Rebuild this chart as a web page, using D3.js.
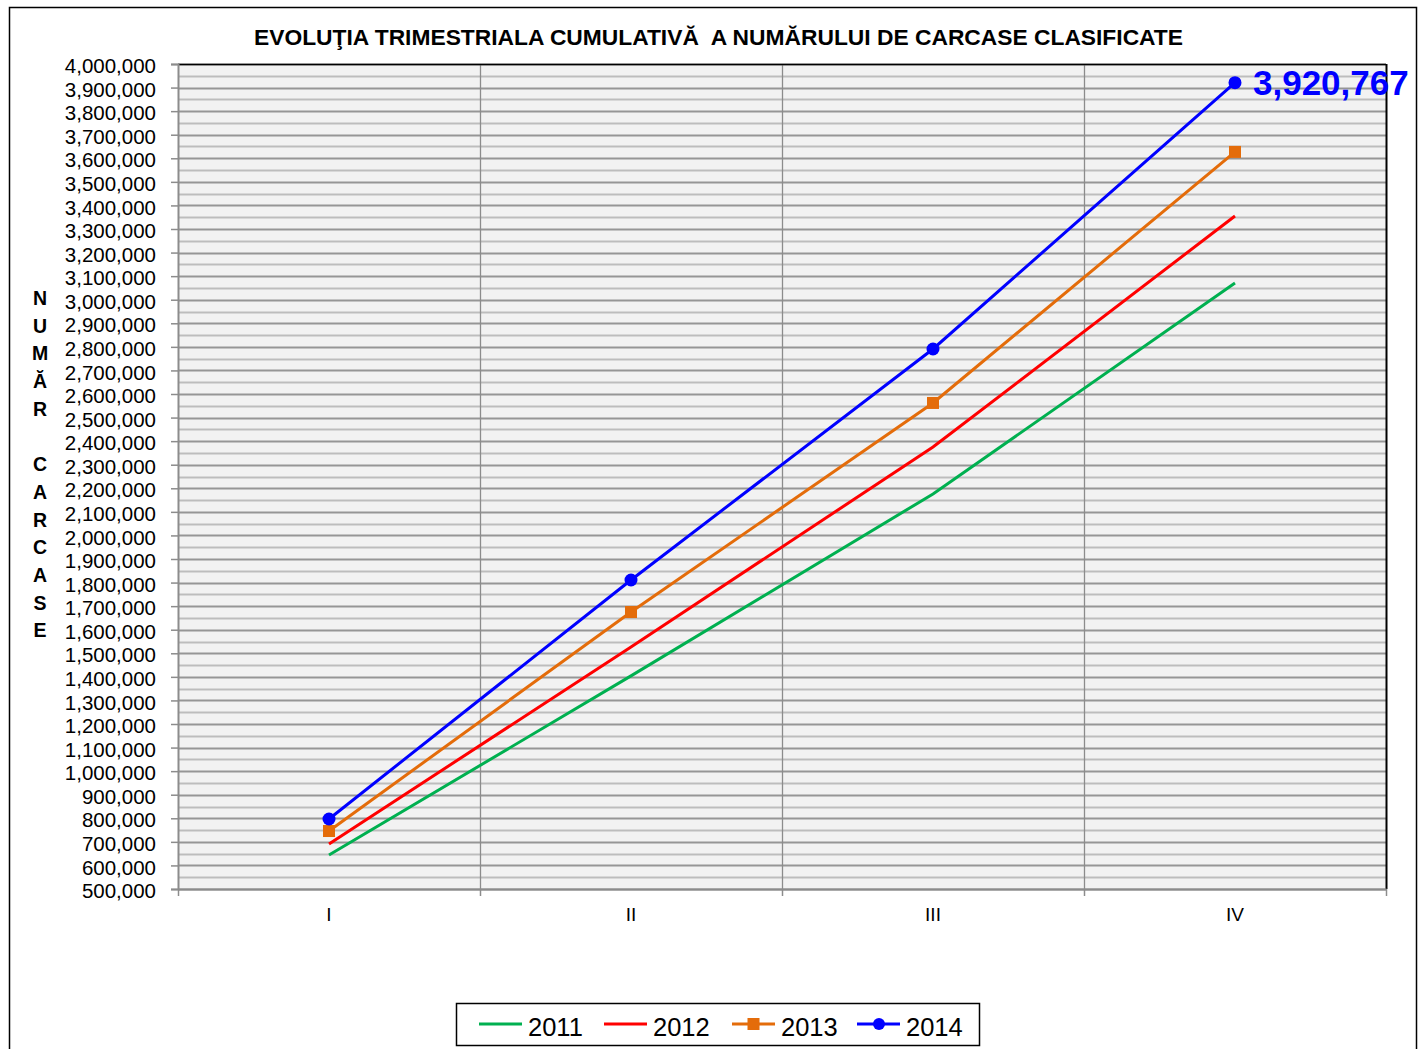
<!DOCTYPE html>
<html><head><meta charset="utf-8">
<script src="https://cdn.jsdelivr.net/npm/d3@7"></script>
<style>body{margin:0;background:#fff;} svg{display:block;font-family:Arial,"Liberation Sans",sans-serif;}</style>
</head><body>
<svg id="chart" width="1419" height="1049"></svg>
<script>
const title = "EVOLUŢIA TRIMESTRIALA CUMULATIVĂ  A NUMĂRULUI DE CARCASE CLASIFICATE";
const yAxisTitle = ["N","U","M","Ă","R","","C","A","R","C","A","S","E"];
const categories = ["I","II","III","IV"];
const seriesNames = ["2011","2012","2013","2014"];
const values2011 = [644000, 1404000, 2176000, 3071000];
const values2012 = [691000, 1527000, 2375000, 3355000];
const values2013 = [746000, 1675000, 2562000, 3627000];
const values2014 = [797000, 1811000, 2791000, 3920767];
const yTicks = d3.range(500000, 4000001, 100000);
const minorTicks = d3.range(550000, 4000000, 100000);
const lastLabel = "3,920,767";

const colors = {"2011":"#00b050","2012":"#ff0000","2013":"#e46c0a","2014":"#0000ff"};
const markers = {"2011":null,"2012":null,"2013":"square","2014":"circle"};
const seriesData = {"2011":values2011,"2012":values2012,"2013":values2013,"2014":values2014};

const svg = d3.select("#chart");
const L = 178, T = 64, R = 1386, B = 889;

// outer frame
svg.append("rect").attr("x",9.5).attr("y",7.5).attr("width",1407).attr("height",1060)
  .attr("fill","none").attr("stroke","#000").attr("stroke-width",1.5);

const x = d3.scaleBand().domain(categories).range([L,R]);
const y = d3.scaleLinear().domain([500000,4000000]).range([B,T]);

svg.append("rect").attr("x",L).attr("y",T).attr("width",R-L).attr("height",B-T).attr("fill","#f2f2f2");

// minor grid
svg.append("g").selectAll("line").data(minorTicks).join("line")
  .attr("x1",L).attr("x2",R).attr("y1",d=>Math.round(y(d))+0.5).attr("y2",d=>Math.round(y(d))+0.5)
  .attr("stroke","#bdbdbd").attr("stroke-width",2);
// major grid
svg.append("g").selectAll("line").data(yTicks).join("line")
  .attr("x1",L).attr("x2",R).attr("y1",d=>Math.round(y(d))+0.5).attr("y2",d=>Math.round(y(d))+0.5)
  .attr("stroke","#969696").attr("stroke-width",2);
// vertical grid
svg.append("g").selectAll("line").data(categories.slice(1)).join("line")
  .attr("x1",d=>Math.round(x(d))+0.5).attr("x2",d=>Math.round(x(d))+0.5).attr("y1",T).attr("y2",B)
  .attr("stroke","#8c8c8c").attr("stroke-width",1.3);

// plot frame top/right
svg.append("line").attr("x1",L).attr("x2",R).attr("y1",T+0.5).attr("y2",T+0.5).attr("stroke","#000").attr("stroke-width",1.5);
svg.append("line").attr("x1",R+0.5).attr("x2",R+0.5).attr("y1",T).attr("y2",B).attr("stroke","#000").attr("stroke-width",2);

// y axis
const yAxis = d3.axisLeft(y).tickValues(yTicks).tickSize(7).tickPadding(14)
  .tickFormat(d3.format(","));
const gy = svg.append("g").attr("transform",`translate(${L},0)`).call(yAxis);
gy.select(".domain").attr("stroke","#8c8c8c").attr("stroke-width",2);
gy.selectAll(".tick line").attr("stroke","#8c8c8c").attr("stroke-width",1.5);
gy.selectAll(".tick text").attr("font-size",20.5).attr("fill","#000").attr("dx",-1).attr("dy","0.42em");

// x axis
const xAxis = d3.axisBottom(x).tickSize(0).tickPadding(19);
const gx = svg.append("g").attr("transform",`translate(0,${B})`).call(xAxis);
gx.select(".domain").attr("stroke","#8c8c8c").attr("stroke-width",2);
gx.selectAll(".tick text").attr("font-size",19).attr("fill","#000");
// x boundary ticks
const bounds = categories.map(c=>x(c)).concat([R]);
svg.append("g").selectAll("line").data(bounds).join("line")
  .attr("x1",d=>Math.round(d)+0.5).attr("x2",d=>Math.round(d)+0.5).attr("y1",B).attr("y2",B+7)
  .attr("stroke","#8c8c8c").attr("stroke-width",1.5);

// series
const line = d3.line().x((d,i)=>x(categories[i])+x.bandwidth()/2).y(d=>y(d));
seriesNames.forEach(s=>{
  const vals = seriesData[s];
  svg.append("path").datum(vals).attr("d",line).attr("fill","none")
    .attr("stroke",colors[s]).attr("stroke-width",3);
  const g = svg.append("g");
  if(markers[s]==="square"){
    g.selectAll("rect").data(vals).join("rect")
      .attr("x",(d,i)=>x(categories[i])+x.bandwidth()/2-6).attr("y",d=>y(d)-6)
      .attr("width",12).attr("height",12).attr("fill",colors[s]);
  } else if(markers[s]==="circle"){
    g.selectAll("circle").data(vals).join("circle")
      .attr("cx",(d,i)=>x(categories[i])+x.bandwidth()/2).attr("cy",d=>y(d))
      .attr("r",6.5).attr("fill",colors[s]);
  }
});

// last value label
svg.append("text").attr("x",x("IV")+x.bandwidth()/2+18).attr("y",y(values2014[3])+12)
  .attr("font-size",35).attr("font-weight","bold").attr("fill","#0000ff").text(lastLabel);

// title
svg.append("text").attr("x",254).attr("y",45)
  .attr("font-size",21.5).attr("font-weight","bold").attr("fill","#000")
  .attr("textLength",929).attr("lengthAdjust","spacingAndGlyphs")
  .attr("xml:space","preserve").text(title);

// y axis title (vertical stacked letters)
svg.append("g").selectAll("text").data(yAxisTitle).join("text")
  .attr("x",40).attr("y",(d,i)=>305+i*27.7).attr("text-anchor","middle")
  .attr("font-size",19.5).attr("font-weight","bold").attr("fill","#000").text(d=>d);

// legend
svg.append("rect").attr("x",456.5).attr("y",1003.5).attr("width",523).attr("height",42)
  .attr("fill","#fff").attr("stroke","#000").attr("stroke-width",1.5);
const legX = [479, 604, 732, 857];
seriesNames.forEach((s,i)=>{
  const g = svg.append("g").attr("transform",`translate(${legX[i]},1024)`);
  g.append("line").attr("x1",0).attr("x2",43).attr("y1",0).attr("y2",0).attr("stroke",colors[s]).attr("stroke-width",3);
  if(markers[s]==="square") g.append("rect").attr("x",15.5).attr("y",-6).attr("width",12).attr("height",12).attr("fill",colors[s]);
  if(markers[s]==="circle") g.append("circle").attr("cx",22).attr("cy",0).attr("r",6).attr("fill",colors[s]);
  g.append("text").attr("x",49).attr("y",12).attr("font-size",25.5).attr("fill","#000").text(s);
});
</script>
</body></html>
